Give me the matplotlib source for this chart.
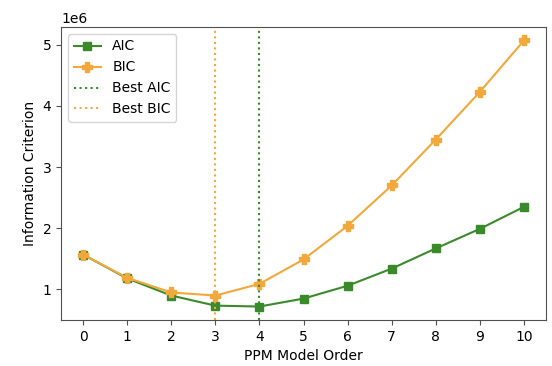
import matplotlib
matplotlib.use("Agg")
import matplotlib.pyplot as plt

orders = [0, 1, 2, 3, 4, 5, 6, 7, 8, 9, 10]
aic = [1.57e6, 1.18e6, 0.90e6, 0.735e6, 0.72e6, 0.85e6, 1.06e6, 1.34e6, 1.67e6, 1.99e6, 2.35e6]
bic = [1.57e6, 1.19e6, 0.95e6, 0.90e6, 1.09e6, 1.49e6, 2.04e6, 2.70e6, 3.45e6, 4.23e6, 5.07e6]
best_aic = 4
best_bic = 3

green = '#3a8a2c'
orange = '#f2a83a'

fig = plt.figure(figsize=(5.52, 3.66), dpi=100)
ax = fig.add_axes([61/552, 1-320/366, (546-61)/552, (320-27)/366])
ax.plot(orders, aic, marker='s', color=green, label='AIC', markersize=6)
ax.plot(orders, bic, marker='P', color=orange, label='BIC', markersize=7)
ax.axvline(best_aic, color=green, linestyle=':', label='Best AIC')
ax.axvline(best_bic, color=orange, linestyle=':', label='Best BIC')
ax.set_xticks(orders)
ax.set_xlabel('PPM Model Order')
ax.set_ylabel('Information Criterion')
ax.set_ylim(0.5e6, 5.29e6)
for s in ax.spines.values():
    s.set_color('#505050')
ax.tick_params(color='#505050')
ax.legend(loc='upper left')
fig.savefig('out.png', dpi=100)
